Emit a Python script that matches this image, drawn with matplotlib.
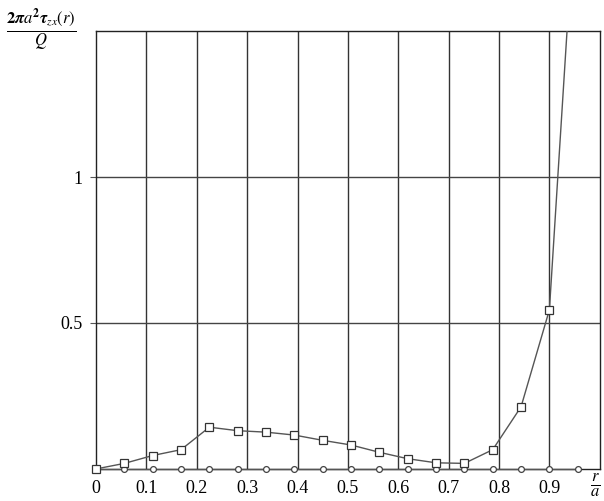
import matplotlib
matplotlib.use('Agg')
import matplotlib.pyplot as plt

plt.rcParams['font.family'] = 'Liberation Serif'
plt.rcParams['mathtext.fontset'] = 'stix'

# r/a sample points (step 0.9/16)
r_over_a = [0.0, 0.05625, 0.1125, 0.16875, 0.225, 0.28125, 0.3375, 0.39375, 0.45,
            0.50625, 0.5625, 0.61875, 0.675, 0.73125, 0.7875, 0.84375, 0.9, 0.95625]
# normalised shear stress, square markers
tau_sq = [0.0, 0.019, 0.046, 0.066, 0.143, 0.131, 0.126, 0.116, 0.098,
          0.082, 0.057, 0.035, 0.021, 0.019, 0.066, 0.213, 0.545, 2.08]
# second curve, circle markers (zero everywhere)
tau_circ = [0.0] * 18

xtick_vals = [0, 0.1, 0.2, 0.3, 0.4, 0.5, 0.6, 0.7, 0.8, 0.9]
xtick_labels = ['0', '0.1', '0.2', '0.3', '0.4', '0.5', '0.6', '0.7', '0.8', '0.9']
ytick_vals = [0.5, 1.0]
ytick_labels = ['0.5', '1']

fig = plt.figure(figsize=(6.04, 5.01), dpi=100)
ax = fig.add_axes([0.159, 0.064, 0.834, 0.874])

line_col = '#555555'
ymax = 1.5
ax.plot(r_over_a, tau_circ, '-', color=line_col, lw=1.0, marker='o', ms=4.2,
        mfc='white', mec='#444444', mew=0.9, clip_on=False, zorder=3)
# line clipped to the axes, markers drawn unclipped so the one at x=0 is whole
ax.plot(r_over_a, tau_sq, '-', color=line_col, lw=1.0, zorder=4)
vis = [(x, y) for x, y in zip(r_over_a, tau_sq) if y <= ymax]
ax.plot([v[0] for v in vis], [v[1] for v in vis], linestyle='none', marker='s', ms=5.5,
        mfc='white', mec='#333333', mew=0.9, clip_on=False, zorder=5)

ax.set_xlim(0, 1.0)
ax.set_ylim(0, ymax)

# grid: every 0.1 in x, every 0.5 in y
for xv in xtick_vals[1:]:
    ax.axvline(xv, color='#333333', lw=1.0, zorder=1)
for yv in ytick_vals:
    ax.axhline(yv, color='#444444', lw=1.0, zorder=1)

ax.set_xticks(xtick_vals)
ax.set_xticklabels(xtick_labels, fontsize=13)
ax.set_yticks(ytick_vals)
ax.set_yticklabels(ytick_labels, fontsize=13)
ax.tick_params(axis='x', length=0, pad=8)
ax.tick_params(axis='y', length=4, pad=6, color='#555555')

for s in ax.spines.values():
    s.set_color('#222222')
    s.set_linewidth(1.0)

fig.text(0.01, 0.94, r'$\frac{\mathbf{2}\boldsymbol{\pi}a^{\mathbf{2}}\boldsymbol{\tau}_{zx}(r)}{Q}$',
         fontsize=17, ha='left', va='center')
fig.text(0.985, 0.004, r'$\frac{r}{a}$', fontsize=17, ha='center', va='bottom')

plt.savefig('out.png', dpi=100)
